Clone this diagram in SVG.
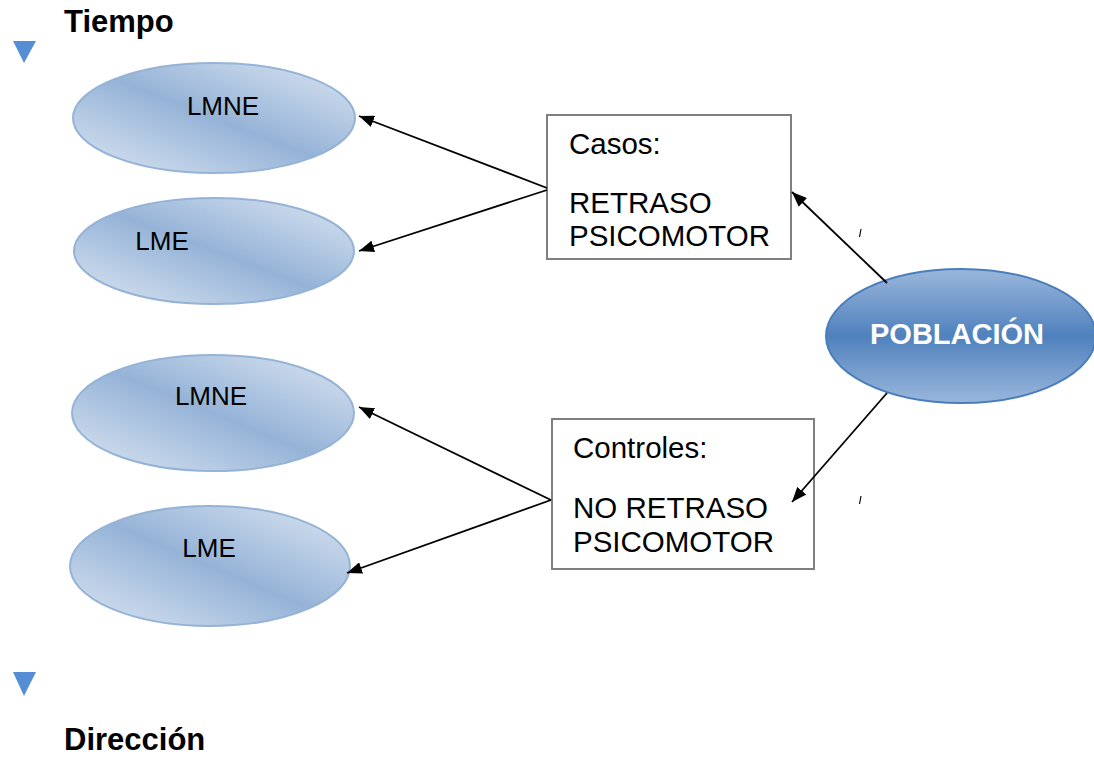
<svg xmlns="http://www.w3.org/2000/svg" width="1094" height="757" viewBox="0 0 1094 757">
<style>
.lbl{font-family:"Liberation Sans",Arial,sans-serif;fill:#000}
.small{fill:url(#gS);stroke:#95b3d7;stroke-width:2}
.box{fill:#fff;stroke:#7f7f7f;stroke-width:2}
.conn{stroke:#000;stroke-width:1.8;fill:none;marker-end:url(#ah)}
.tri{fill:#558ed5}
</style>
<defs>
<linearGradient id="gS" x1="0" y1="1" x2="1" y2="0">
<stop offset="0" stop-color="#dce6f2"/>
<stop offset="0.5" stop-color="#95b3d7"/>
<stop offset="1" stop-color="#dce6f2"/>
</linearGradient>
<linearGradient id="gP" x1="0" y1="0" x2="0" y2="1">
<stop offset="0" stop-color="#9ab7dc"/>
<stop offset="0.5" stop-color="#4f81bd"/>
<stop offset="1" stop-color="#9ab7dc"/>
</linearGradient>
<marker id="ah" markerWidth="15" markerHeight="12" refX="15" refY="6" orient="auto" markerUnits="userSpaceOnUse">
<path d="M0,0 L15,6 L0,12 z" fill="#000"/>
</marker>
</defs>
<g id="titles">
<text class="lbl" x="64" y="32" font-size="31" font-weight="bold">Tiempo</text>
<polygon class="tri" points="13,41 36,41 24,63"/>
<polygon class="tri" points="13,672 36,672 24,696"/>
<text class="lbl" x="64" y="750" font-size="31" font-weight="bold">Dirección</text>
</g>
<g id="lmne1">
<ellipse class="small" cx="214" cy="118" rx="141" ry="55"/>
<text class="lbl" x="223" y="115" font-size="26" text-anchor="middle">LMNE</text>
</g>
<g id="lme1">
<ellipse class="small" cx="214" cy="251" rx="140" ry="53"/>
<text class="lbl" x="162" y="250" font-size="26" text-anchor="middle">LME</text>
</g>
<g id="lmne2">
<ellipse class="small" cx="213" cy="413" rx="141" ry="58"/>
<text class="lbl" x="211" y="405" font-size="26" text-anchor="middle">LMNE</text>
</g>
<g id="lme2">
<ellipse class="small" cx="210" cy="566" rx="140" ry="60"/>
<text class="lbl" x="209" y="557" font-size="26" text-anchor="middle">LME</text>
</g>
<g id="casos">
<rect class="box" x="547" y="115" width="244" height="144"/>
<text class="lbl" x="569" y="154" font-size="29.5">Casos:</text>
<text class="lbl" x="569" y="213" font-size="29.5">RETRASO</text>
<text class="lbl" x="569" y="246" font-size="29.5">PSICOMOTOR</text>
</g>
<g id="controles">
<rect class="box" x="552" y="419" width="262" height="150"/>
<text class="lbl" x="573" y="458" font-size="29.5">Controles:</text>
<text class="lbl" x="573" y="518" font-size="29.5">NO RETRASO</text>
<text class="lbl" x="573" y="552" font-size="29.5">PSICOMOTOR</text>
</g>
<g id="poblacion">
<ellipse cx="961" cy="336" rx="135" ry="67" fill="url(#gP)" stroke="#4a7ebb" stroke-width="2"/>
<text x="957" y="344" font-family="Liberation Sans,Arial,sans-serif" font-size="29" font-weight="bold" fill="#fff" text-anchor="middle">POBLACIÓN</text>
</g>
<g id="marks">
<line x1="861" y1="229" x2="859.5" y2="237" stroke="#000" stroke-width="1.2"/>
<line x1="861" y1="496" x2="859.5" y2="504" stroke="#000" stroke-width="1.2"/>
</g>
<g id="connectors">
<line class="conn" x1="547" y1="188" x2="359" y2="116"/>
<line class="conn" x1="547" y1="190" x2="359" y2="251"/>
<line class="conn" x1="551" y1="500" x2="359" y2="407"/>
<line class="conn" x1="551" y1="500" x2="347" y2="573"/>
<line class="conn" x1="887" y1="283" x2="792" y2="192"/>
<line class="conn" x1="887" y1="393" x2="792" y2="502"/>
</g>
</svg>
